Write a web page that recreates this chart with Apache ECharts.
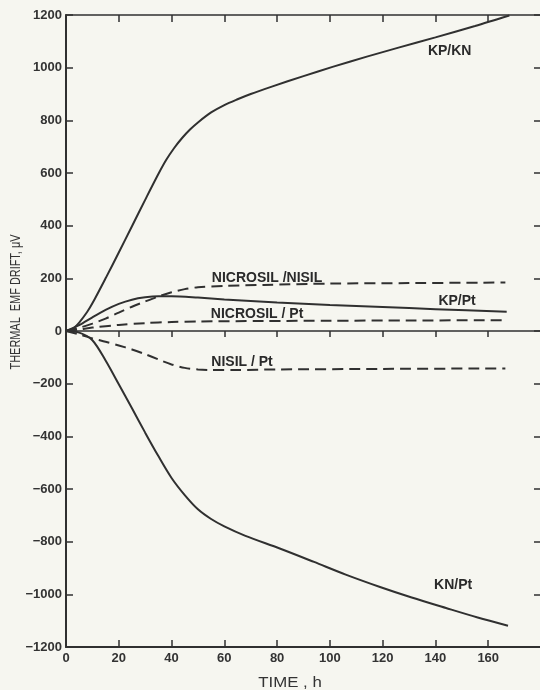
<!DOCTYPE html>
<html><head><meta charset="utf-8">
<script src="https://cdn.jsdelivr.net/npm/echarts@6/dist/echarts.min.js"></script>
<style>html,body{margin:0;padding:0;background:#f6f6f0}#c{width:540px;height:690px}</style>
</head><body><div id="c"></div>
<script>
// ---- data (time in h, drift in µV) ----
const xMin = 0, xMax = 180, xStep = 20;
const yMin = -1200, yMax = 1200, yStep = 200;
const kpKn = [[0,0],[3,12],[5,32],[8,72],[10,105],[15,200],[20,298],[25,398],[30,498],[35,596],[38,650],[41,695],[44,733],[47,765],[50,792],[55,830],[60,858],[65,880],[70,900],[78,928],[90,968],[101,1003],[114,1042],[126,1076],[140,1115],[155,1158],[168,1198]];
const knPt = [[0,0],[5,-6],[10,-35],[15,-112],[20,-202],[25,-293],[30,-386],[35,-475],[40,-558],[45,-623],[50,-677],[55,-714],[60,-742],[68,-778],[81,-826],[94,-877],[106,-925],[119,-972],[131,-1012],[144,-1052],[156,-1088],[167.5,-1119]];
const kpPt = [[0,0],[5,22],[10,52],[15,80],[20,103],[25,119],[30,128],[35,132],[40,132],[50,127],[60,120],[80,108],[100,99],[120,91],[140,83],[167,73]];
const nicrosilNisil = [[0,0],[5,12],[10,28],[15,47],[20,70],[25,92],[30,112],[35,131],[40,147],[45,159],[50,166],[60,171],[75,175],[100,180],[130,182],[166.5,184]];
const nicrosilPt = [[0,0],[5,6],[10,13],[20,23],[30,30],[40,34],[50,36],[75,38],[100,39],[130,40],[166.5,41]];
const nisilPt = [[0,0],[5,-13],[10,-28],[15,-41],[20,-55],[25,-70],[30,-88],[35,-108],[40,-127],[45,-140],[50,-146],[55,-148],[65,-148],[80,-146],[120,-144],[166.5,-142]];
const curveNames = ['KP/KN','KN/Pt','KP/Pt','NICROSIL /NISIL','NICROSIL / Pt','NISIL / Pt'];
const annotations = [
  ['KP/KN', 145.4, 1062],
  ['KN/Pt', 146.7, -966],
  ['NICROSIL /NISIL', 76.2, 202],
  ['KP/Pt', 148.2, 114],
  ['NICROSIL / Pt', 72.4, 65],
  ['NISIL / Pt', 66.7, -118]
];
const xTitle = 'TIME , h';
const yTitle = 'THERMAL  EMF DRIFT, \u03bcV';

const INK = '#303030';
const chart = echarts.init(document.getElementById('c'), null, {renderer:'canvas'});
const fmtY = v => (v < 0 ? '\u2212' + Math.abs(v) : String(v));
const fmtX = v => (v > 160 ? '' : String(v));
function xAx(extra){
  return Object.assign({type:'value', min:xMin, max:xMax, interval:xStep, splitLine:{show:false},
    axisLabel:{show:false}}, extra);
}
function line(name, data, dashed){
  return {name, type:'line', data, xAxisIndex:0, yAxisIndex:0, showSymbol:false, smooth:0.3,
    silent:true, animation:false,
    lineStyle:{color:INK, width:2, type: dashed ? [11,6] : 'solid'}};
}
chart.setOption({
  backgroundColor:'#f6f6f0',
  animation:false,
  grid:{left:66, top:15, width:475, height:632, outerBoundsMode:'none', containLabel:false},
  xAxis:[
    xAx({position:'bottom', axisLine:{onZero:false, lineStyle:{color:INK, width:2}},
      axisTick:{show:true, inside:true, length:7, lineStyle:{color:INK, width:1.5}},
      axisLabel:{show:true, formatter:fmtX, color:'#333', fontSize:13, fontWeight:'bold', margin:5, fontFamily:'Liberation Sans'}}),
    xAx({position:'top', axisLine:{onZero:false, lineStyle:{color:INK, width:1.5}},
      axisTick:{show:true, inside:true, length:7, lineStyle:{color:INK, width:1.5}}}),
    xAx({position:'bottom', axisLine:{onZero:true, onZeroAxisIndex:0, lineStyle:{color:INK, width:1.5}},
      axisTick:{show:true, inside:false, length:6, lineStyle:{color:INK, width:1.5}}})
  ],
  yAxis:[
    {type:'value', position:'left', min:yMin, max:yMax, interval:yStep, splitLine:{show:false},
      axisLine:{show:true, onZero:false, lineStyle:{color:INK, width:2}},
      axisTick:{show:true, inside:true, length:7, lineStyle:{color:INK, width:1.5}},
      axisLabel:{formatter:fmtY, color:'#333', fontSize:13, fontWeight:'bold', margin:4, fontFamily:'Liberation Sans'}},
    {type:'value', position:'right', min:yMin, max:yMax, interval:yStep, splitLine:{show:false},
      axisLine:{show:true, onZero:false, lineStyle:{color:INK, width:2}},
      axisTick:{show:true, inside:true, length:7, lineStyle:{color:INK, width:1.5}},
      axisLabel:{show:false}}
  ],
  series:[
    line(curveNames[0], kpKn, false),
    line(curveNames[1], knPt, false),
    line(curveNames[2], kpPt, false),
    line(curveNames[3], nicrosilNisil, true),
    line(curveNames[4], nicrosilPt, true),
    line(curveNames[5], nisilPt, true)
  ]
});
const gfx = annotations.map(([t, x, y]) => {
  const p = chart.convertToPixel({xAxisIndex:0, yAxisIndex:0}, [x, y]);
  return {type:'text', x:p[0], y:p[1], silent:true,
    style:{text:t, fill:'#2a2a2a', font:'bold 14px "Liberation Sans"', align:'center', verticalAlign:'middle'}};
});
gfx.push({type:'text', x:290, y:683, scaleX:1.2, silent:true,
  style:{text:xTitle, fill:'#333', font:'14px "Liberation Sans"', align:'center', verticalAlign:'middle'}});
gfx.push({type:'text', x:16, y:302, rotation:Math.PI/2, scaleX:0.78, silent:true,
  style:{text:yTitle, fill:'#333', font:'14px "Liberation Sans"', align:'center', verticalAlign:'middle'}});
chart.setOption({graphic:gfx});
</script>
</body></html>
